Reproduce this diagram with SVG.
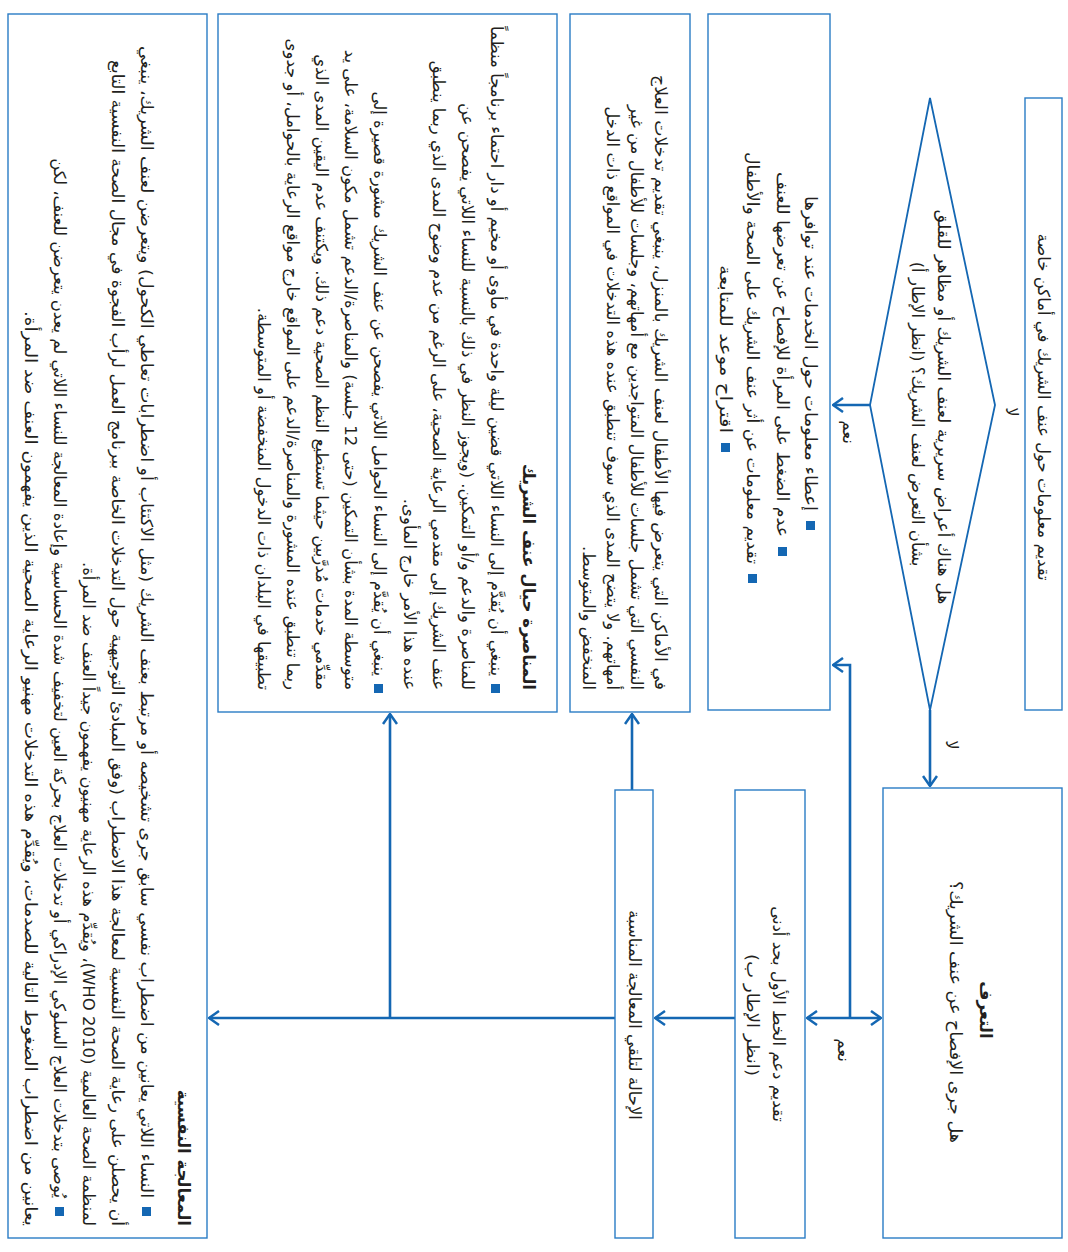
<svg xmlns="http://www.w3.org/2000/svg" width="1068" height="1252" viewBox="0 0 1068 1252">
<style>
.box{fill:#ffffff;stroke:#2a7cc5;stroke-width:1.4}
.conn{fill:none;stroke:#1467b3;stroke-width:2.6}
.t{font-family:"DejaVu Sans","Noto Sans",sans-serif;font-size:16.5px;fill:#231f20;direction:rtl}
.c{text-anchor:middle}
.s{text-anchor:start}
.b{font-weight:bold}
.bul{fill:#1467b3}
</style>
<defs>
<marker id="arr" viewBox="0 0 12 16" refX="11" refY="8" markerWidth="12" markerHeight="16" markerUnits="userSpaceOnUse" orient="auto-start-reverse">
<path d="M1,1 L11,8 L1,15" fill="none" stroke="#1467b3" stroke-width="2.5"/>
</marker>
</defs>
<rect width="1068" height="1252" fill="#ffffff"/>

<g id="connectors">
<path class="conn" d="M870,405 H833" marker-end="url(#arr)"/>
<path class="conn" d="M930,710 V786" marker-end="url(#arr)"/>
<path class="conn" d="M881,1018 H807" marker-start="url(#arr)" marker-end="url(#arr)"/>
<path class="conn" d="M850,1018 V665 H833" marker-end="url(#arr)"/>
<path class="conn" d="M735,1018 H655" marker-end="url(#arr)"/>
<path class="conn" d="M615,1018 H209" marker-end="url(#arr)"/>
<path class="conn" d="M390,1018 V714" marker-end="url(#arr)"/>
<path class="conn" d="M632,790 V714" marker-end="url(#arr)"/>
<g transform="rotate(90)">
<text class="t c" x="412" y="-1006">لا</text>
<text class="t c" x="745" y="-946">لا</text>
<text class="t c" x="432" y="-843">نعم</text>
<text class="t c" x="1050" y="-838">نعم</text>
</g>
</g>

<g id="node-info-private">
<rect class="box" x="1025" y="98" width="37" height="612"/>
<g transform="rotate(90)">
<text class="t c" x="407" y="-1038">تقديم معلومات حول عنف الشريك في أماكن خاصة</text>
</g>
</g>

<g id="node-decision-symptoms">
<polygon class="box" points="930,98 995,405 930,710 870,405" style="stroke:#1467b3;stroke-width:1.8"/>
<g transform="rotate(90)">
<text class="t c" x="407" y="-938" textLength="395" lengthAdjust="spacingAndGlyphs">هل هناك أعراض سريرية لعنف الشريك أو مظاهر للقلق</text>
<text class="t c" x="414" y="-912">بشأن التعرض لعنف الشريك؟ (انظر الإطار أ)</text>
</g>
</g>

<g id="node-identification">
<rect class="box" x="883" y="788" width="179" height="450"/>
<g transform="rotate(90)">
<text class="t c b" x="1010" y="-980">التعرف</text>
<text class="t c" x="1012" y="-950" textLength="262" lengthAdjust="spacingAndGlyphs">هل جرى الإفصاح عن عنف الشريك؟</text>
</g>
</g>

<g id="node-info-services">
<rect class="box" x="708" y="14" width="122" height="696"/>
<rect class="bul" x="806" y="521" width="9" height="9"/>
<rect class="bul" x="778" y="547" width="9" height="9"/>
<rect class="bul" x="748" y="574" width="9" height="9"/>
<rect class="bul" x="721" y="443" width="9" height="9"/>
<g transform="rotate(90)">
<text class="t s" x="511" y="-805" textLength="315" lengthAdjust="spacingAndGlyphs">إعطاء معلومات حول الخدمات عند توافرها</text>
<text class="t s" x="537" y="-777" textLength="365" lengthAdjust="spacingAndGlyphs">عدم الضغط على المرأة للإفصاح عن تعرضها للعنف</text>
<text class="t s" x="564" y="-747" textLength="412" lengthAdjust="spacingAndGlyphs">تقديم معلومات عن أثر عنف الشريك على الصحة والأطفال</text>
<text class="t s" x="433" y="-720" textLength="168" lengthAdjust="spacingAndGlyphs">اقتراح موعد للمتابعة</text>
</g>
</g>

<g id="node-first-line">
<rect class="box" x="735" y="790" width="70" height="448"/>
<g transform="rotate(90)">
<text class="t c" x="1014" y="-773">تقديم دعم الخط الأول بحد أدنى</text>
<text class="t c" x="1015" y="-747" textLength="122" lengthAdjust="spacingAndGlyphs">(انظر الإطار ب)</text>
</g>
</g>

<g id="node-referral">
<rect class="box" x="615" y="790" width="38" height="448"/>
<g transform="rotate(90)">
<text class="t c" x="1015" y="-629">الإحالة لتلقي المعالجة المناسبة</text>
</g>
</g>

<g id="node-children">
<rect class="box" x="570" y="14" width="120" height="698"/>
<g transform="rotate(90)">
<text class="t s" x="690" y="-655" textLength="615" lengthAdjust="spacingAndGlyphs">في الأماكن التي يتعرض فيها الأطفال لعنف الشريك بالمنزل، ينبغي تقديم تدخلات العلاج</text>
<text class="t s" x="690" y="-631">النفسي التي تشمل جلسات للأطفال المتواجدين مع أمهاتهم، وجلسات للأطفال من غير</text>
<text class="t s" x="690" y="-607">أمهاتهم. ولا يتضح المدى الذي سوف تنطبق عنده هذه التدخلات في المواقع ذات الدخل</text>
<text class="t s" x="690" y="-583">المنخفض والمتوسط.</text>
</g>
</g>

<g id="node-advocacy">
<rect class="box" x="218" y="14" width="339" height="698"/>
<rect class="bul" x="491" y="684" width="9" height="9"/>
<rect class="bul" x="374" y="684" width="9" height="9"/>
<g transform="rotate(90)">
<text class="t s b" x="690" y="-523">المناصرة حيال عنف الشريك</text>
<text class="t s" x="676" y="-491">ينبغي أن يُقدَّم إلى النساء اللاتي قضين ليلة واحدة في مأوى أو مخيم أو دار احتماء برنامجاً منظماً</text>
<text class="t s" x="690" y="-462">للمناصرة والدعم و/أو التمكين. (ويجوز النظر في ذلك بالنسبة للنساء اللاتي يفصحن عن</text>
<text class="t s" x="690" y="-433">عنف الشريك إلى مقدمي الرعاية الصحية، على الرغم من عدم وضوح المدى الذي ربما ينطبق</text>
<text class="t s" x="690" y="-404">عنده هذا الأمر خارج المأوى.</text>
<text class="t s" x="676" y="-374">ينبغي أن يُقدَّم إلى النساء الحوامل اللاتي يفصحن عن عنف الشريك مشورة قصيرة إلى</text>
<text class="t s" x="690" y="-345">متوسطة المدة بشأن التمكين (حتى 12 جلسة) والمناصرة/الدعم تشمل مكون السلامة، على يد</text>
<text class="t s" x="690" y="-316">مقدِّمي خدمات مُدرَّبين حيثما تستطيع النظم الصحية دعم ذلك. ويكتنف عدم اليقين المدى الذي</text>
<text class="t s" x="690" y="-287">ربما تنطبق عنده المشورة والمناصرة/الدعم على المواقع خارج مواقع الرعاية بالحوامل، أو جدوى</text>
<text class="t s" x="690" y="-258">تطبيقها في البلدان ذات الدخول المنخفضة أو المتوسطة.</text>
</g>
</g>

<g id="node-mental-health">
<rect class="box" x="8" y="14" width="199" height="1224"/>
<rect class="bul" x="142" y="1207" width="9" height="9"/>
<rect class="bul" x="55" y="1207" width="9" height="9"/>
<g transform="rotate(90)">
<text class="t s b" x="1226" y="-178">المعالجة النفسية</text>
<text class="t s" x="1198" y="-141" textLength="1152" lengthAdjust="spacingAndGlyphs">النساء اللاتي يعانين من اضطراب نفسي سابق جرى تشخيصه أو مرتبط بعنف الشريك (مثل الاكتئاب أو اضطرابات تعاطي الكحول) ويتعرضن لعنف الشريك، ينبغي</text>
<text class="t s" x="1226" y="-112" textLength="1166" lengthAdjust="spacingAndGlyphs">أن يحصلن على رعاية الصحة النفسية لمعالجة هذا الاضطراب (وفق المبادئ التوجيهية حول التدخلات الخاصة ببرنامج العمل لرأب الفجوة في مجال الصحة النفسية التابع</text>
<text class="t s" x="1226" y="-83">لمنظمة الصحة العالمية (WHO 2010)، ويُقدِّم هذه الرعاية مهنيون يفهمون جيداً العنف ضد المرأة.</text>
<text class="t s" x="1198" y="-54">يُوصى بتدخلات العلاج السلوكي الإدراكي أو تدخلات العلاج بحركة العين لتخفيف شدة الحساسية وإعادة المعالجة للنساء اللاتي لم يعدن يتعرضن للعنف، لكن</text>
<text class="t s" x="1226" y="-25" textLength="915" lengthAdjust="spacingAndGlyphs">يعانين من اضطراب الضغوط التالية للصدمات، ويُقدِّم هذه التدخلات مهنيو الرعاية الصحية الذين يفهمون العنف ضد المرأة.</text>
</g>
</g>
</svg>
